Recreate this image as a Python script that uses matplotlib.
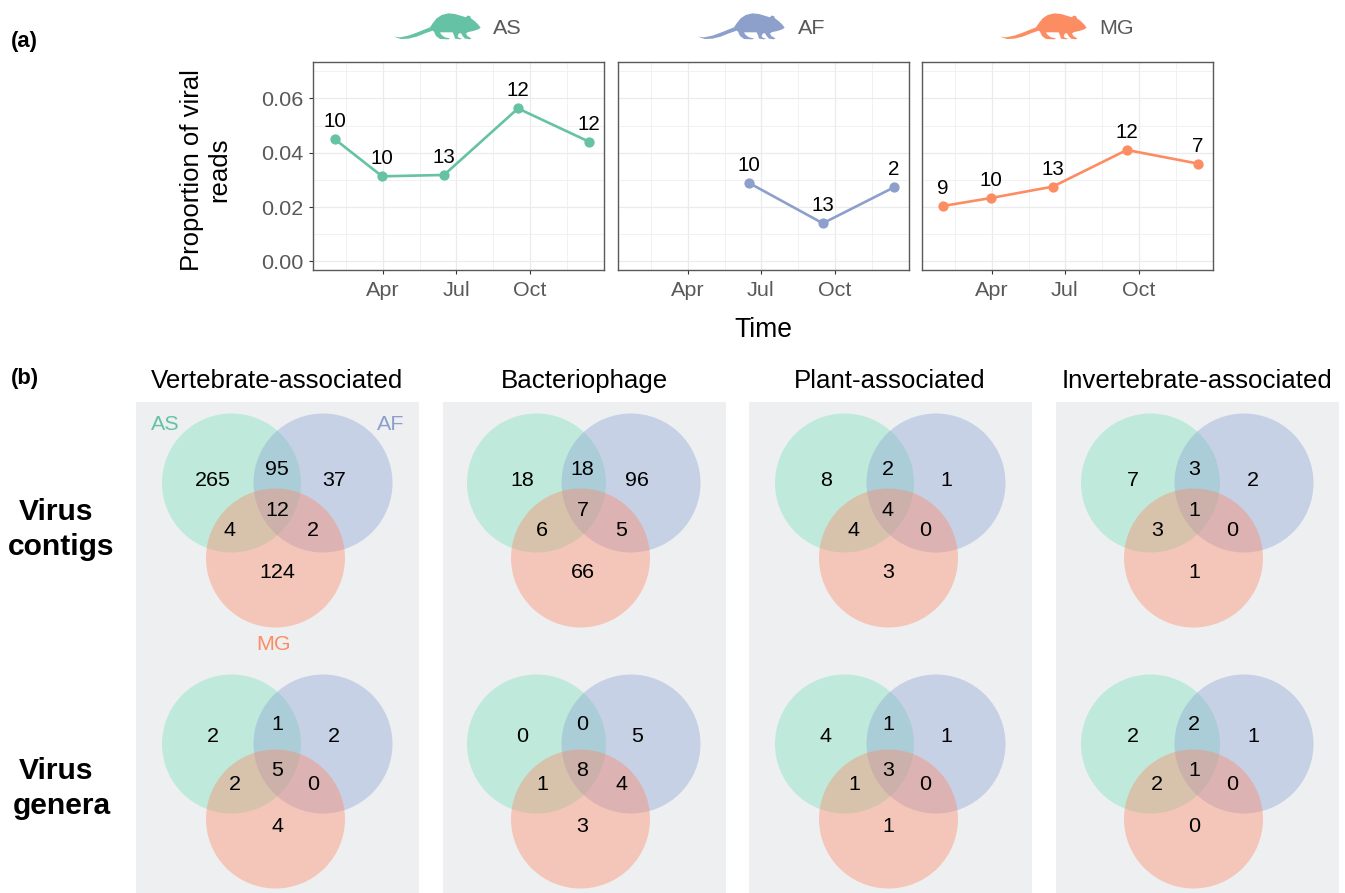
import datetime as dt
import matplotlib
matplotlib.use("Agg")
import matplotlib.pyplot as plt
import matplotlib.dates as mdates
from matplotlib.patches import Circle, Polygon
from matplotlib.ticker import FixedLocator, NullFormatter

plt.rcParams['font.family'] = ['Liberation Sans', 'DejaVu Sans']

W, H = 1345, 893
SOURCE = ["AS", "AF", "MG"]
LINE_COL = ["#66c2a5", "#8da0cb", "#fc8d62"]
FILL_COL = ["#76e2ba", "#8ca4d5", "#ff8867"]

# panel (a) data
as_dates = ["2017-01-31", "2017-03-31", "2017-06-16", "2017-09-16", "2017-12-13"]
as_vals = [0.0450, 0.0313, 0.0318, 0.0563, 0.0441]
as_n = [10, 10, 13, 12, 12]
af_dates = ["2017-06-16", "2017-09-16", "2017-12-13"]
af_vals = [0.0289, 0.0140, 0.0272]
af_n = [10, 13, 2]
mg_dates = ["2017-01-31", "2017-03-31", "2017-06-16", "2017-09-16", "2017-12-13"]
mg_vals = [0.0204, 0.0233, 0.0275, 0.0410, 0.0360]
mg_n = [9, 10, 13, 12, 7]

# panel (b) data; region order: AS, AS&AF, AF, all, AS&MG, AF&MG, MG
categories = ["Vertebrate-associated", "Bacteriophage", "Plant-associated", "Invertebrate-associated"]
contigs = [[265, 95, 37, 12, 4, 2, 124], [18, 18, 96, 7, 6, 5, 66],
           [8, 2, 1, 4, 4, 0, 3], [7, 3, 2, 1, 3, 0, 1]]
genera = [[2, 1, 2, 5, 2, 0, 4], [0, 0, 5, 8, 1, 4, 3],
          [4, 1, 1, 3, 1, 0, 1], [2, 2, 1, 1, 2, 0, 0]]


def d(s):
    return mdates.date2num(dt.date.fromisoformat(s))


def px_axes(l, t, r, b, **kw):
    return fig.add_axes([l / W, 1 - b / H, (r - l) / W, (b - t) / H], **kw)


def fs(px):
    return px * 0.72


fig = plt.figure(figsize=(W / 100, H / 100), dpi=100)

# ---------- panel (a)
panels = [(313, 604), (617.5, 909), (921.5, 1213)]
series = [(as_dates, as_vals, as_n), (af_dates, af_vals, af_n), (mg_dates, mg_vals, mg_n)]
major = [d("2017-04-01"), d("2017-07-01"), d("2017-10-01")]
minor = [d("2017-02-14"), d("2017-05-17"), d("2017-08-16"), d("2017-11-16")]
for i, ((l, r), (ds, vs, ns)) in enumerate(zip(panels, series)):
    ax = px_axes(l, 62, r, 270)
    xs = [d(s) for s in ds]
    ax.plot(xs, vs, color=LINE_COL[i], lw=1.9, marker='o', ms=7.4, mew=0, zorder=3, clip_on=False)
    for x, y, n in zip(xs, vs, ns):
        ax.annotate(str(n), (x, y), xytext=(0, 5.8), textcoords='offset points', ha='center',
                    va='bottom', fontsize=fs(20.5), color='black', zorder=4)
    ax.set_xlim(d("2017-01-04"), d("2018-01-01"))
    ax.set_ylim(-0.0032, 0.0734)
    ax.xaxis.set_major_locator(FixedLocator(major))
    ax.xaxis.set_minor_locator(FixedLocator(minor))
    ax.set_xticklabels(["Apr", "Jul", "Oct"])
    ax.xaxis.set_minor_formatter(NullFormatter())
    ax.yaxis.set_major_locator(FixedLocator([0, 0.02, 0.04, 0.06]))
    ax.yaxis.set_minor_locator(FixedLocator([0.01, 0.03, 0.05, 0.07]))
    ax.grid(which='major', color='#ebebeb', lw=0.9)
    ax.grid(which='minor', color='#efefef', lw=0.6)
    ax.set_axisbelow(True)
    ax.tick_params(which='minor', length=0)
    ax.tick_params(which='major', length=3.2, width=0.8, color='#333333', labelcolor='#595959',
                   labelsize=fs(21.5), pad=4)
    ax.tick_params(axis='x', which='major', pad=5)
    if i == 0:
        ax.set_yticklabels(["0.00", "0.02", "0.04", "0.06"])
    else:
        ax.tick_params(axis='y', which='both', left=False, labelleft=False)
    for sp in ax.spines.values():
        sp.set_color('#595959')
        sp.set_linewidth(1.0)

# overlay in pixel coordinates for decoration and free text
ov = fig.add_axes([0, 0, 1, 1], zorder=10)
ov.set_xlim(0, W)
ov.set_ylim(H, 0)
ov.axis('off')

ov.text(205.5, 170, "Proportion of viral\nreads", fontsize=fs(25.7), rotation=90, ha='center', va='center',
        multialignment='center', linespacing=1.2)
ov.text(763, 330, "Time", fontsize=fs(26.5), ha='center', va='center')

MOUSE = [(42, 110), (60, 112), (85, 107), (110, 98), (135, 88), (150, 82), (158, 70), (170, 55), (185, 45),
         (205, 40), (225, 42), (245, 48), (258, 52), (262, 47), (270, 48), (273, 55), (285, 64), (295, 74),
         (302, 83), (295, 88), (280, 93), (265, 96), (258, 100), (262, 108), (274, 115), (270, 118), (255, 116),
         (248, 108), (243, 100), (237, 100), (233, 108), (236, 113), (246, 116), (240, 118), (225, 116),
         (222, 106), (218, 97), (200, 97), (180, 97), (185, 105), (195, 112), (210, 115), (205, 118), (180, 117),
         (168, 108), (162, 95), (158, 92), (135, 100), (110, 110), (85, 116), (62, 117)]
for i, (off, lx) in enumerate(zip([0, 304, 606], [493, 798, 1099])):
    pts = [(380 + x / 3 + off, y / 3) for x, y in MOUSE]
    ov.add_patch(Polygon(pts, closed=True, fc=LINE_COL[i], ec='none'))
    ov.text(lx, 34, SOURCE[i], fontsize=fs(21.5), color='#595959', ha='left', va='baseline')

ov.text(11, 47, "(a)", fontsize=fs(22), fontweight='bold', ha='left', va='baseline')
ov.text(11, 384, "(b)", fontsize=fs(22), fontweight='bold', ha='left', va='baseline')
ov.text(56, 520, "Virus", fontsize=fs(30), fontweight='bold', ha='center', va='baseline')
ov.text(61, 555, "contigs", fontsize=fs(30), fontweight='bold', ha='center', va='baseline')
ov.text(56, 779, "Virus", fontsize=fs(30), fontweight='bold', ha='center', va='baseline')
ov.text(62, 814, "genera", fontsize=fs(30), fontweight='bold', ha='center', va='baseline')

# ---------- panel (b)
lefts = [136, 443, 749, 1056]
circle_x = [(95.5, 187, 139.5), (93.5, 188, 137.5), (95.5, 187, 139.5), (94.5, 188, 137.5)]
as_x = [77, 79, 77, 77]
af_x = [198, 194, 197, 197]
mid_x = [141, 139.5, 139, 138]
as_mg_x = [[93, 99], [99, 99], [105, 105], [101, 101]]
af_mg_x = [177, 178, 176, 176]
row_cy = [(81, 156), (342, 417)]
label_y = [[77, 66, 77, 108, 127, 127, 170], [333, 322, 333, 368, 382, 382, 424]]
for j, (left, name) in enumerate(zip(lefts, categories)):
    ax = px_axes(left, 402, left + 283, 893, facecolor='#eeeff1')
    ax.set_xlim(0, 283)
    ax.set_ylim(491, 0)
    ax.set_xticks([])
    ax.set_yticks([])
    for sp in ax.spines.values():
        sp.set_visible(False)
    ov.text(left + 141, 388, name, fontsize=fs(25.9), ha='center', va='baseline')
    for row, (vals, (cy1, cy2)) in enumerate(zip([contigs[j], genera[j]], row_cy)):
        cxs = circle_x[j]
        for k, (cx, cy) in enumerate(zip(cxs, (cy1, cy1, cy2))):
            ax.add_patch(Circle((cx, cy), 69.5, fc=FILL_COL[k], ec='none', alpha=0.4))
        xs_lab = [as_x[j], mid_x[j], af_x[j], mid_x[j], as_mg_x[j][row], af_mg_x[j], mid_x[j]]
        for v, x, y in zip(vals, xs_lab, label_y[row]):
            ax.text(x, y + 1, str(v), fontsize=fs(21.5), ha='center', va='center', color='black')
    if j == 0:
        ax.text(29, 22, "AS", fontsize=fs(21.5), color=LINE_COL[0], ha='center', va='center')
        ax.text(255, 22, "AF", fontsize=fs(21.5), color=LINE_COL[1], ha='center', va='center')
        ax.text(138, 242, "MG", fontsize=fs(21.5), color=LINE_COL[2], ha='center', va='center')

fig.savefig("out.png", dpi=100)
